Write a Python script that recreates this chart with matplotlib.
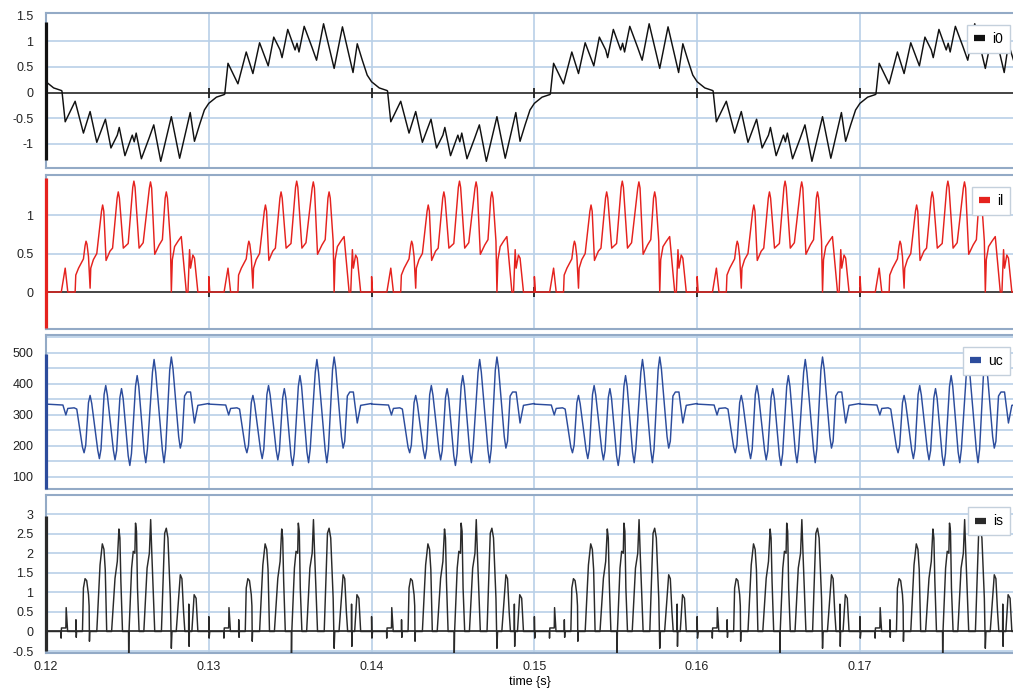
import numpy as np
import matplotlib.pyplot as plt
from matplotlib.ticker import FormatStrFormatter

plt.rcParams['font.family'] = ['Liberation Sans', 'DejaVu Sans']

# one 10 ms half cycle of every trace: (ms offset, value)
# i0 flips sign every half cycle, the others repeat as they are
i0_ms = [0.00, 0.47, 0.94, 0.98, 1.18, 1.79, 2.30, 2.71, 3.12, 3.65, 3.99, 4.38, 4.50,
         4.85, 5.30, 5.42, 5.54, 5.86, 6.33, 6.62, 7.05, 7.70, 8.21, 8.86, 9.12, 9.43,
         9.73, 10.0]
i0_val = [0.21, 0.09, 0.04, 0.03, -0.57, -0.17, -0.79, -0.37, -0.97, -0.52, -1.08, -0.83,
          -0.68, -1.23, -0.83, -0.96, -0.79, -1.29, -0.89, -0.63, -1.34, -0.47, -1.28,
          -0.39, -0.95, -0.63, -0.34, -0.21]

il_ms = [0.00, 0.06, 0.94, 1.18, 1.34, 1.79, 1.83, 2.00, 2.20, 2.30, 2.40, 2.46, 2.52,
         2.61, 2.71, 2.75, 2.91, 3.12, 3.41, 3.48, 3.55, 3.69, 3.93, 4.09, 4.37, 4.44,
         4.51, 4.75, 5.05, 5.33, 5.40, 5.47, 5.72, 5.97, 6.35, 6.42, 6.49, 6.68, 6.95,
         7.15, 7.32, 7.39, 7.46, 7.64, 7.70, 7.76, 7.90, 8.11, 8.31, 8.62, 8.72, 8.82,
         8.88, 9.02, 9.12, 9.33, 10.0]
il_val = [0.20, 0.0, 0.0, 0.31, 0.0, 0.0, 0.22, 0.31, 0.39, 0.43, 0.60, 0.66, 0.62,
          0.46, 0.05, 0.31, 0.42, 0.50, 1.05, 1.13, 1.05, 0.41, 0.53, 0.57, 1.22, 1.30,
          1.22, 0.57, 0.63, 1.36, 1.44, 1.36, 0.57, 0.64, 1.35, 1.43, 1.35, 0.49, 0.61,
          0.68, 1.22, 1.30, 1.22, 0.66, 0.0, 0.42, 0.59, 0.66, 0.72, 0.0, 0.0, 0.55,
          0.31, 0.48, 0.44, 0.0, 0.0]

uc_ms = [0.00, 1.04, 1.22, 1.34, 1.73, 1.89,
         2.24, 2.34, 2.44, 2.61, 2.71, 2.81, 3.18, 3.28, 3.38, 3.57, 3.67, 3.77,
         4.14, 4.24, 4.34, 4.54, 4.64, 4.74, 5.05, 5.15, 5.25, 5.50, 5.60, 5.70,
         6.03, 6.13, 6.23, 6.54, 6.64, 6.74, 7.15, 7.25, 7.35, 7.60, 7.70, 7.80,
         8.15, 8.25, 8.35, 8.51, 8.66, 8.88, 9.12, 9.33, 10.0]
uc_val = [335, 332, 300, 321, 323, 319,
          196, 178, 202, 340, 363, 337, 186, 159, 190, 366, 395, 364,
          186, 155, 185, 356, 385, 353, 168, 137, 175, 392, 427, 392,
          180, 146, 190, 438, 479, 438, 186, 146, 190, 445, 487, 450,
          230, 193, 215, 361, 374, 374, 274, 331, 337]

is_ms = [0.00, 0.02, 0.06, 0.92, 0.93, 0.95, 1.22, 1.24, 1.33, 1.83, 1.84, 1.86, 1.88,
         2.24, 2.30, 2.40, 2.50, 2.61, 2.65, 2.67, 2.69,
         3.12, 3.32, 3.46, 3.56, 3.64, 3.73,
         4.03, 4.24, 4.38, 4.48, 4.54, 4.60, 4.70,
         5.07, 5.08, 5.10, 5.26, 5.36, 5.46, 5.50, 5.56, 5.62, 5.72,
         6.01, 6.21, 6.35, 6.43, 6.50, 6.58, 6.60, 6.68,
         7.09, 7.29, 7.39, 7.49, 7.64, 7.70, 7.74,
         8.00, 8.25, 8.35, 8.45, 8.53, 8.76, 8.77, 8.79, 8.81,
         8.96, 9.10, 9.22, 9.33, 10.0]
is_val = [0.38, -0.17, 0.0, 0.0, -0.17, 0.09, 0.09, 0.61, 0.0, 0.0, 0.30, -0.15, 0.0,
          0.0, 1.11, 1.35, 1.30, 0.94, 0.65, -0.25, 0.0,
          0.0, 1.70, 2.24, 2.10, 1.58, 0.0,
          0.0, 1.36, 1.79, 2.62, 2.39, 1.28, 0.0,
          0.0, -0.55, 0.0, 1.62, 2.05, 2.00, 2.77, 2.56, 1.11, 0.0,
          0.0, 1.62, 2.00, 2.86, 2.00, 1.11, 0.90, 0.0,
          0.0, 2.51, 2.64, 2.39, 0.85, -0.43, 0.0,
          0.0, 1.45, 1.35, 0.51, 0.0, 0.0, 0.70, -0.38, 0.0,
          0.0, 0.94, 0.85, 0.0, 0.0]

# range of the coloured bar drawn on the left edge of each trace
edge_bars = {'i0': (-1.31, 1.37), 'il': (-0.47, 1.48), 'uc': (61, 497), 'is': (-0.5, 2.96)}

# labelled y ticks and horizontal grid lines per panel
yticks = {'i0': [-1, -0.5, 0, 0.5, 1, 1.5],
          'il': [0, 0.5, 1],
          'uc': [100, 200, 300, 400, 500],
          'is': [-0.5, 0, 0.5, 1, 1.5, 2, 2.5, 3]}
ygrid = {'i0': [-1, -0.5, 0.5, 1],
         'il': [0.5, 1],
         'uc': [100, 150, 200, 250, 300, 350, 400, 450, 500, 550],
         'is': [-0.5, 0.5, 1, 1.5, 2, 2.5, 3]}

t_start = 0.12
t_end = 0.1794
n_half = 6
x_ticks = [0.12, 0.13, 0.14, 0.15, 0.16, 0.17]


def tile(ms, val, alternate=False):
    ts, vs = [], []
    for k in range(n_half):
        sign = -1 if (alternate and k % 2) else 1
        ts.extend(t_start + (k * 10 + np.array(ms)) / 1000.0)
        vs.extend(sign * np.array(val, dtype=float))
    return np.array(ts), np.array(vs)


traces = [
    ('i0', tile(i0_ms, i0_val, alternate=True), '#111111', (-1.47, 1.55), True),
    ('il', tile(il_ms, il_val), '#e5221e', (-0.48, 1.52), True),
    ('uc', tile(uc_ms, uc_val), '#2c4c9c', (61, 558), False),
    ('is', tile(is_ms, is_val), '#2a2a2a', (-0.55, 3.49), True),
]

# axes boxes in figure fractions: (bottom, height)
boxes = [(0.7569, 0.2243), (0.5239, 0.2229), (0.2923, 0.2229), (0.0550, 0.2287)]

frame_col = '#93aac6'
grid_col = '#b9d0e8'

fig = plt.figure(figsize=(10.13, 6.91), dpi=100)

for idx, (name, (t, v), col, ylim, zero) in enumerate(traces):
    bottom, height = boxes[idx]
    ax = fig.add_axes([0.0454, bottom, 1.0 - 0.0454, height])
    ax.set_xlim(t_start, t_end)
    ax.set_ylim(*ylim)

    ax.set_xticks(x_ticks)
    ax.set_yticks(yticks[name])
    ax.grid(True, axis='x', color=grid_col, lw=1.2)
    for g in ygrid[name]:
        ax.axhline(g, color=grid_col, lw=1.2, zorder=1)
    ax.set_axisbelow(True)
    ax.yaxis.set_major_formatter(FormatStrFormatter('%g'))
    ax.tick_params(length=0, labelsize=9, pad=9, colors='#222222')
    if idx < 3:
        ax.tick_params(labelbottom=False)
    else:
        ax.tick_params(axis='x', pad=6)
        ax.set_xlabel('time {s}', fontsize=9, labelpad=2)

    for side in ['top', 'bottom', 'left']:
        ax.spines[side].set_color(frame_col)
        ax.spines[side].set_linewidth(1.5)
    ax.spines['right'].set_visible(False)

    if zero:
        ax.axhline(0, color='#111111', lw=1.1, zorder=2)
        if idx < 3:
            ax.plot(x_ticks, np.zeros(len(x_ticks)), ls='none', marker='|', ms=7,
                    mew=1.3, color='#222222', zorder=2)

    lo, hi = edge_bars[name]
    ax.plot([t_start, t_start], [lo, hi], color=col, lw=2.3, zorder=3,
            solid_capstyle='butt', clip_on=False)

    ax.plot(t, v, color=col, lw=1.05, label=name, zorder=4)

    leg = ax.legend(loc='upper right', bbox_to_anchor=(1.004, 0.965), fontsize=10,
                    handlelength=0.8, handletextpad=0.5, borderpad=0.5,
                    fancybox=False, framealpha=1.0, edgecolor='#c4d0dc')
    for h in leg.get_lines():
        h.set_linewidth(4.5)
        h.set_solid_capstyle('butt')

fig.savefig('out.png', dpi=100)
